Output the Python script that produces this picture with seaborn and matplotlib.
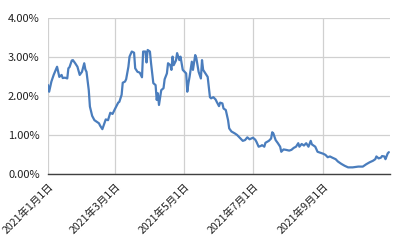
import matplotlib
matplotlib.use("Agg")
import matplotlib.pyplot as plt
import matplotlib.dates as mdates
from matplotlib.ticker import PercentFormatter, FixedLocator
import seaborn as sns
import pandas as pd

dates = [
    "2021-01-01", "2021-01-02", "2021-01-04", "2021-01-06", "2021-01-09", "2021-01-11",
    "2021-01-13", "2021-01-14", "2021-01-16", "2021-01-18", "2021-01-19", "2021-01-20",
    "2021-01-22", "2021-01-23", "2021-01-25", "2021-01-27", "2021-01-29", "2021-01-31",
    "2021-02-02", "2021-02-03", "2021-02-04", "2021-02-06", "2021-02-07", "2021-02-09",
    "2021-02-11", "2021-02-13", "2021-02-15", "2021-02-16", "2021-02-18", "2021-02-20",
    "2021-02-21", "2021-02-23", "2021-02-25", "2021-02-27", "2021-03-01", "2021-03-04",
    "2021-03-05", "2021-03-07", "2021-03-08", "2021-03-10", "2021-03-11", "2021-03-13",
    "2021-03-14", "2021-03-16", "2021-03-18", "2021-03-19", "2021-03-21", "2021-03-23",
    "2021-03-25", "2021-03-26", "2021-03-28", "2021-03-29", "2021-03-30", "2021-04-01",
    "2021-04-02", "2021-04-04", "2021-04-06", "2021-04-07", "2021-04-08", "2021-04-09",
    "2021-04-11", "2021-04-13", "2021-04-14", "2021-04-16", "2021-04-17", "2021-04-19",
    "2021-04-20", "2021-04-21", "2021-04-22", "2021-04-24", "2021-04-25", "2021-04-27",
    "2021-04-28", "2021-04-30", "2021-05-02", "2021-05-03", "2021-05-04", "2021-05-05",
    "2021-05-06", "2021-05-08", "2021-05-09", "2021-05-11", "2021-05-12", "2021-05-14",
    "2021-05-16", "2021-05-17", "2021-05-18", "2021-05-20", "2021-05-22", "2021-05-24",
    "2021-05-25", "2021-05-27", "2021-05-29", "2021-05-30", "2021-06-01", "2021-06-02",
    "2021-06-04", "2021-06-05", "2021-06-07", "2021-06-09", "2021-06-10", "2021-06-12",
    "2021-06-15", "2021-06-17", "2021-06-19", "2021-06-22", "2021-06-24", "2021-06-26",
    "2021-06-28", "2021-07-01", "2021-07-03", "2021-07-04", "2021-07-06", "2021-07-08",
    "2021-07-09", "2021-07-11", "2021-07-12", "2021-07-15", "2021-07-17", "2021-07-18",
    "2021-07-19", "2021-07-21", "2021-07-23", "2021-07-25", "2021-07-26", "2021-07-28",
    "2021-07-30", "2021-08-02", "2021-08-04", "2021-08-06", "2021-08-08", "2021-08-10",
    "2021-08-11", "2021-08-13", "2021-08-15", "2021-08-17", "2021-08-19", "2021-08-21",
    "2021-08-22", "2021-08-25", "2021-08-27", "2021-08-29", "2021-09-01", "2021-09-03",
    "2021-09-05", "2021-09-07", "2021-09-09", "2021-09-12", "2021-09-14", "2021-09-17",
    "2021-09-20", "2021-09-23", "2021-09-27", "2021-10-02", "2021-10-06", "2021-10-09",
    "2021-10-12", "2021-10-15", "2021-10-17", "2021-10-18", "2021-10-20", "2021-10-22",
    "2021-10-23", "2021-10-25", "2021-10-26", "2021-10-28", "2021-10-29",
]

values = [
    2.28, 2.11, 2.37, 2.54, 2.75, 2.49,
    2.54, 2.46, 2.47, 2.45, 2.71, 2.74,
    2.91, 2.92, 2.84, 2.75, 2.54, 2.62,
    2.84, 2.68, 2.62, 2.15, 1.73, 1.49,
    1.38, 1.34, 1.30, 1.24, 1.15, 1.32,
    1.40, 1.38, 1.57, 1.54, 1.66, 1.83,
    1.85, 2.03, 2.34, 2.37, 2.43, 2.75,
    3.01, 3.14, 3.11, 2.71, 2.62, 2.60,
    2.48, 3.14, 3.14, 2.86, 3.18, 3.14,
    2.84, 2.33, 2.28, 1.90, 2.07, 1.77,
    2.15, 2.20, 2.43, 2.58, 2.84, 2.79,
    2.67, 3.01, 2.79, 2.91, 3.10, 2.92,
    3.01, 2.67, 2.61, 2.58, 2.11, 2.33,
    2.49, 2.88, 2.67, 3.05, 2.97, 2.62,
    2.45, 2.92, 2.67, 2.58, 2.49, 1.97,
    1.94, 1.97, 1.91, 1.85, 1.74, 1.83,
    1.81, 1.68, 1.64, 1.38, 1.17, 1.09,
    1.04, 1.00, 0.94, 0.85, 0.87, 0.94,
    0.89, 0.93, 0.88, 0.83, 0.70, 0.72,
    0.74, 0.70, 0.80, 0.85, 0.91, 1.07,
    1.04, 0.87, 0.79, 0.70, 0.57, 0.63,
    0.62, 0.60, 0.62, 0.67, 0.70, 0.79,
    0.70, 0.77, 0.73, 0.79, 0.70, 0.85,
    0.76, 0.70, 0.57, 0.55, 0.52, 0.49,
    0.43, 0.45, 0.42, 0.38, 0.32, 0.26,
    0.21, 0.17, 0.17, 0.19, 0.19, 0.25,
    0.30, 0.34, 0.38, 0.45, 0.40, 0.42,
    0.46, 0.45, 0.38, 0.53, 0.56,
]

tick_dates = ["2021-01-01", "2021-03-01", "2021-05-01", "2021-07-01", "2021-09-01"]
tick_labels = ["2021年1月1日", "2021年3月1日", "2021年5月1日", "2021年7月1日", "2021年9月1日"]
y_ticks = [0, 1, 2, 3, 4]

sns.set_style("white")
plt.rcParams["font.family"] = ["Noto Sans CJK JP", "DejaVu Sans"]

df = pd.DataFrame({"date": pd.to_datetime(dates), "value": values})

fig = plt.figure(figsize=(4.02, 2.48), dpi=100)
ax = fig.add_axes([48 / 402, 1 - 174 / 248, (390 - 48) / 402, (174 - 18) / 248])

sns.lineplot(data=df, x="date", y="value", ax=ax, color="#4a7dbd", linewidth=1.6)

ax.set_xlim(pd.Timestamp("2021-01-01"), pd.Timestamp("2021-10-30"))
ax.set_ylim(0, 4)
ax.yaxis.set_major_locator(FixedLocator(y_ticks))
ax.yaxis.set_major_formatter(PercentFormatter(100, decimals=2))
ax.set_xticks(pd.to_datetime(tick_dates))
ax.set_xticklabels(tick_labels, rotation=45, ha="right", rotation_mode="anchor")
ax.tick_params(axis="y", length=0, labelsize=8, colors="#222222", pad=6)
ax.tick_params(axis="x", length=0, labelsize=7.6, colors="#222222", pad=5)

ax.grid(True, color="#d0d0d0", linewidth=0.9)
ax.set_axisbelow(True)
for s in ["top", "right", "left"]:
    ax.spines[s].set_visible(False)
ax.spines["bottom"].set_color("#404040")
ax.spines["bottom"].set_linewidth(1.0)
ax.set_xlabel("")
ax.set_ylabel("")

fig.savefig("out.png", dpi=100)
